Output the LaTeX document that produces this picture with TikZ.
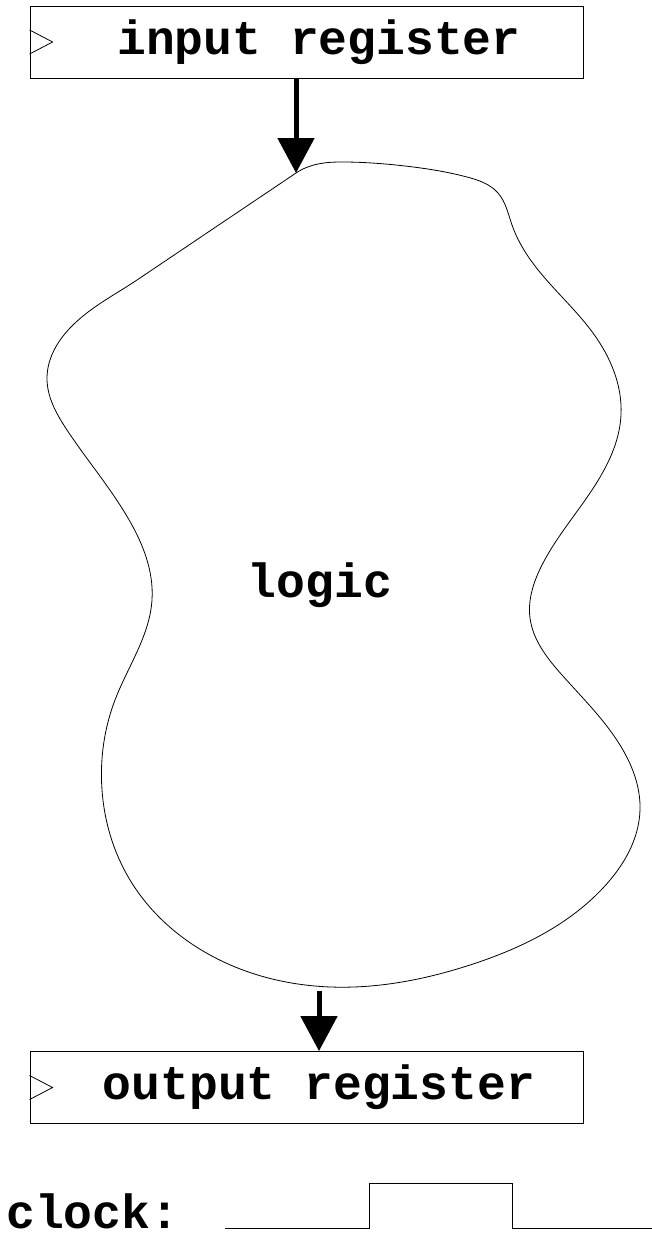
\documentclass[tikz,border=0pt]{standalone}
\usepackage{fontspec}
\setmonofont{Liberation Mono}
\usetikzlibrary{arrows.meta,calc,positioning,hobby}
\tikzset{
  label font/.style={font=\ttfamily\bfseries\fontsize{48}{52}\selectfont},
  register/.style={draw,rectangle,minimum width=553pt,minimum height=72pt,inner sep=0pt,label font},
  flow/.style={line width=5pt,-{Triangle[width=36pt,length=35pt]}},
  thin/.style={line width=0.8pt}
}

\begin{document}
\begin{tikzpicture}[x=1pt,y=-1pt,thin]
  \useasboundingbox (0,0) rectangle (652,1240);

  \node[register] (inreg) at (306.5,42) {\hspace*{25pt}input register};
  \node[register] (outreg) at (306.5,1087.5) {\hspace*{25pt}output register};
  \draw (inreg.west) ++(0,-12) -- ++(23,12) -- ++(-23,12);
  \draw (outreg.west) ++(0,-12) -- ++(23,12) -- ++(-23,12);

  % the logic cloud
  \coordinate (ltop) at (296,173);
  \coordinate (lbot) at (319,991);
  \draw (137,280) -- (ltop)
    to[out angle=33.7,in angle=213.7,curve through={(318,164) .. (345,162)
      .. (405,166) .. (467,177) .. (498,193) .. (512,225) .. (532,262)
      .. (593,333) .. (621,415) .. (592,490) .. (542,565) .. (530,618)
      .. (562,675) .. (620,745) .. (640,810) .. (603,888) .. (470,965)
      .. (331,987) .. (210,955) .. (130,880) .. (102,790) .. (115,700)
      .. (152,600) .. (128,518) .. (67,430) .. (47,378) .. (70,328)}]
    (137,280) -- cycle;
  \node[label font] (logic) at (320,585) {logic};

  \draw[flow] (inreg.south -| ltop) -- (ltop);
  \draw[flow] (lbot) -- (lbot |- outreg.north);

  % clock
  \node[anchor=base west,inner sep=0pt,label font] (clk) at (6,1228) {clock:};
  \coordinate (c0) at (225,1228);
  \draw (c0) -- ++(144,0) -- ++(0,-45) -- ++(143,0) -- ++(0,45) -- (652,1228);
\end{tikzpicture}
\end{document}
